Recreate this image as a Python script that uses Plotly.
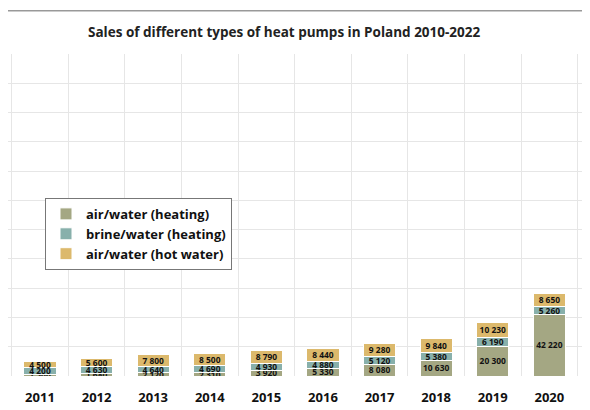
import plotly.graph_objects as go

years = [2011, 2012, 2013, 2014, 2015, 2016, 2017, 2018, 2019, 2020, 2021]
air_heating = [1300, 1680, 2120, 2310, 3920, 5330, 8080, 10630, 20300, 42220, 76690]
brine_heating = [4200, 4630, 4640, 4690, 4930, 4880, 5120, 5380, 6190, 5260, 6300]
air_hot_water = [4500, 5600, 7800, 8500, 8790, 8440, 9280, 9840, 10230, 8650, 9400]

names = ["air/water (heating)", "brine/water (heating)", "air/water (hot water)"]
colors = ["#a4a783", "#88b0ab", "#dcb96c"]
series = [air_heating, brine_heating, air_hot_water]

def fmt(v):
    return f"{v:,}".replace(",", " ")

fig = go.Figure()
for n, c, s in zip(names, colors, series):
    fig.add_trace(go.Bar(
        x=years, y=s, name=n, marker=dict(color=c, line=dict(color="white", width=1)),
        text=[fmt(v) for v in s], textposition="inside", insidetextanchor="middle",
        textangle=0,
        textfont=dict(size=9, color="#111", family="Open Sans", weight="bold"),
        width=0.57, cliponaxis=True,
    ))

fig.update_layout(
    barmode="stack", width=590, height=410,
    margin=dict(l=0, r=0, t=46, b=42, autoexpand=False),
    paper_bgcolor="white", plot_bgcolor="white",
    uniformtext=dict(minsize=8, mode="show"),
    title=dict(text="<b>Sales of different types of heat pumps in Poland 2010-2022</b>",
               x=0.468, xanchor="center", y=0.94, yanchor="middle",
               font=dict(size=13.5, family="Open Sans", color="#222")),
    legend=dict(x=37/590, y=0.553, xanchor="left", yanchor="top", traceorder="normal",
                bordercolor="#777", borderwidth=1, bgcolor="white",
                font=dict(size=13, family="Open Sans", color="#111", weight="bold"),
                itemwidth=30, tracegroupgap=0),
    xaxis=dict(range=[2010.435, 2020.86], tickvals=years, showgrid=False, zeroline=False,
               automargin=False,
               tickfont=dict(size=13, family="Open Sans", color="#111", weight="bold"),
               ticklabelstandoff=12,
               minor=dict(tick0=2010.5, dtick=1, showgrid=True, gridcolor="#e6e6e6")),
    yaxis=dict(range=[0, 220000], dtick=20000, showticklabels=False, automargin=False,
               gridcolor="#e6e6e6", zeroline=False),
)
fig.add_shape(type="line", xref="paper", yref="paper", x0=0, x1=1, y0=1.134, y1=1.134,
              line=dict(color="#999", width=1.5))
fig.add_shape(type="line", xref="paper", yref="paper", x0=0, x1=1, y0=-0.109, y1=-0.109,
              line=dict(color="#999", width=1.5))
fig.add_annotation(text="<i>ket in 2022 in Poland according to PORT PC data</i>", xref="paper", yref="paper",
                   x=0.0, y=-0.17, xanchor="left", yanchor="middle", showarrow=False,
                   font=dict(size=13, family="Open Sans", color="#111"))
fig.write_html("out.html")
